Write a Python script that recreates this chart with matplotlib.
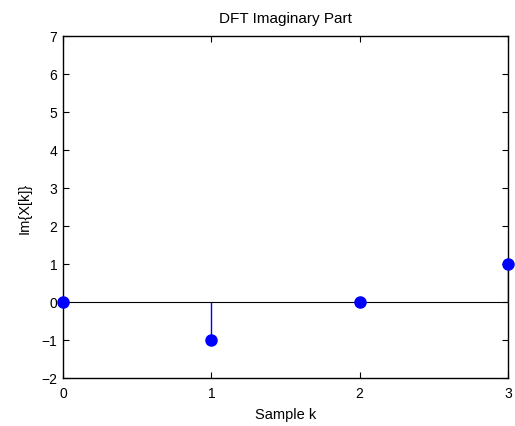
import matplotlib
matplotlib.use("Agg")
import matplotlib.pyplot as plt

k = [0, 1, 2, 3]
im_vals = [0, -1, 0, 1]
xticks = [0, 1, 2, 3]
yticks = [-2, -1, 0, 1, 2, 3, 4, 5, 6, 7]

plt.rcParams['font.family'] = ['Liberation Sans', 'DejaVu Sans']
fig = plt.figure(figsize=(5.15, 4.27), dpi=100)
ax = fig.add_axes([63/515, 1-379/427, (508-63)/515, (379-37)/427])

ml, sl, bl = ax.stem(k, im_vals, basefmt='k-')
plt.setp(sl, color='#0000ff', linewidth=1.0)
plt.setp(ml, color='#0000ff', markersize=8, clip_on=False, zorder=5)
plt.setp(bl, color='black', linewidth=0.8)

ax.set_xlim(0, 3)
ax.set_ylim(-2, 7)
ax.set_xticks(xticks)
ax.set_yticks(yticks)
ax.set_yticklabels([str(v).replace('-', '\u2212') for v in yticks])
ax.tick_params(direction='in', top=True, right=True, length=4, width=0.8, labelsize=10)
ax.tick_params(axis='x', pad=6)
ax.tick_params(axis='y', pad=4)
for s in ax.spines.values():
    s.set_linewidth(1.0)
ax.set_title('DFT Imaginary Part', fontsize=11, pad=10)
ax.set_xlabel('Sample k', fontsize=10.5, labelpad=5)
ax.set_ylabel('Im{X[k]}', fontsize=10.5, labelpad=7)

fig.savefig('out.png', dpi=100)
